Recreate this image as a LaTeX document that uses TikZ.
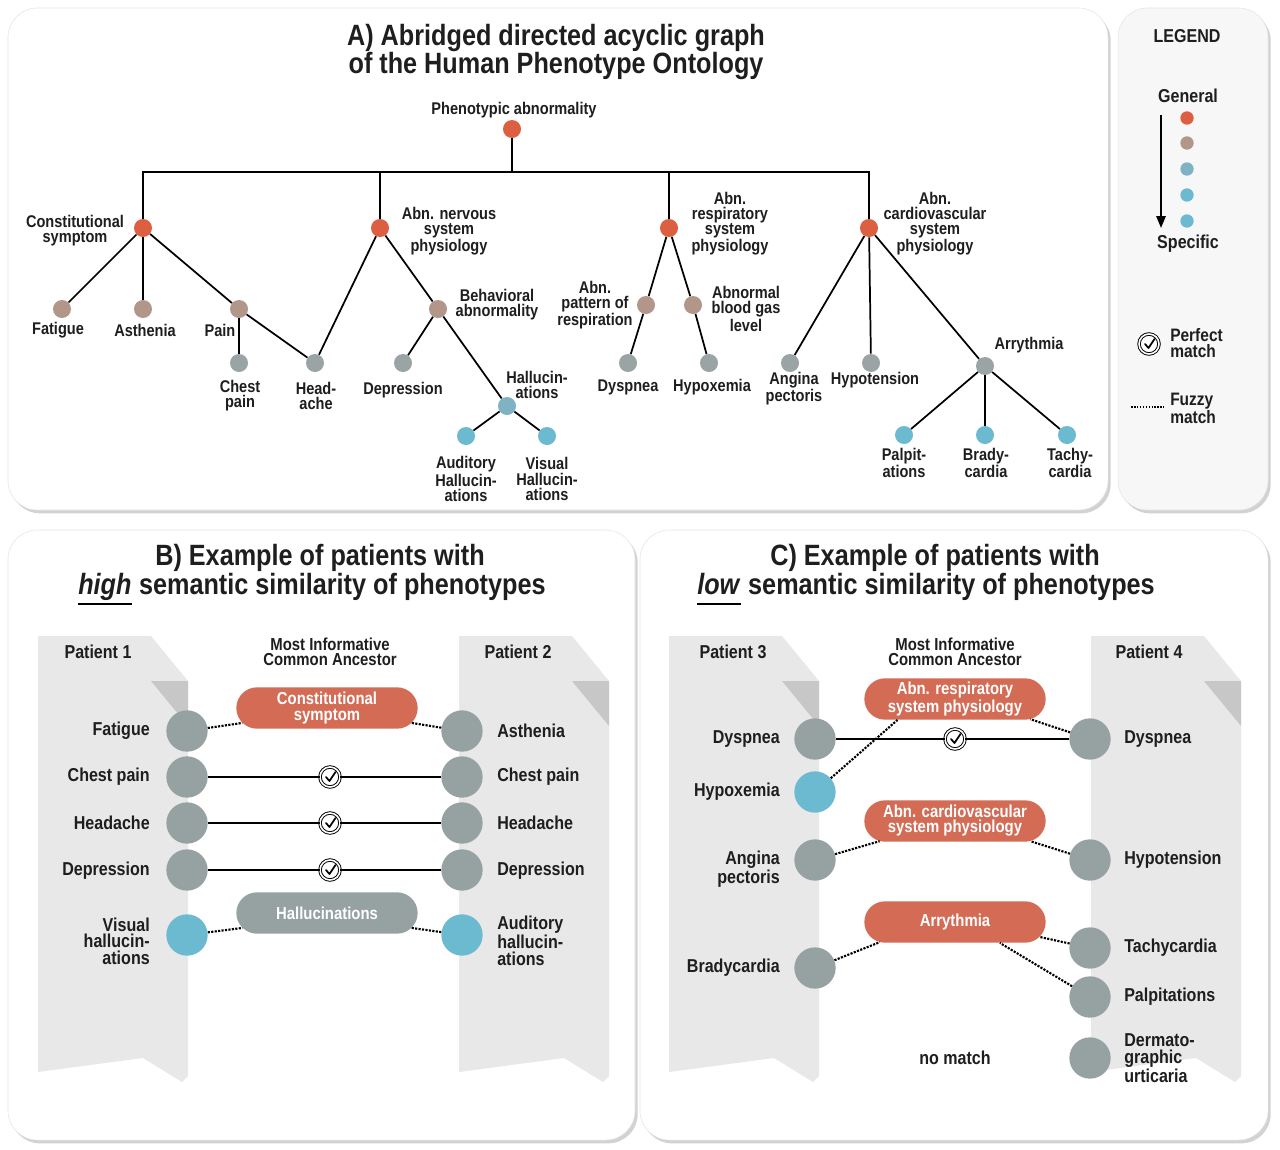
\documentclass[tikz,border=0pt]{standalone}
\usepackage{fontspec}
\setmainfont{Liberation Sans}[FakeStretch=0.86]
\usetikzlibrary{shapes.misc,shadows,arrows.meta}
\definecolor{cOr}{HTML}{DD5F42}
\definecolor{cBr}{HTML}{B3968A}
\definecolor{cGr}{HTML}{9AA4A4}
\definecolor{cGb}{HTML}{7FB3C4}
\definecolor{cBl}{HTML}{6CBAD0}
\definecolor{pOr}{HTML}{D36B55}
\definecolor{pGr}{HTML}{96A2A2}
\definecolor{paper}{HTML}{E8E8E8}
\definecolor{txt}{HTML}{1E1E1E}
\begin{document}
\begin{tikzpicture}[x=0.75pt,y=-0.75pt,
 txt/.style={text=txt,font=\fontsize{12.7}{11.3}\selectfont\bfseries,align=center,inner sep=0pt},
 txtB/.style={text=txt,font=\fontsize{14}{12.5}\selectfont\bfseries,inner sep=0pt},
 ttl/.style={text=txt,font=\fontsize{22}{21}\selectfont\bfseries,align=center,inner sep=0pt},
 dot/.style={circle,inner sep=0pt,minimum size=13.5pt},
 big/.style={circle,inner sep=0pt,minimum size=31pt},
 pill/.style={rounded rectangle,minimum width=136pt,minimum height=31pt,inner sep=0pt,text=white,align=center,font=\fontsize{13}{11.3}\selectfont\bfseries},
 panel/.style={rounded corners=22pt,fill=white,draw=black!10,drop shadow={shadow xshift=2pt,shadow yshift=-2.5pt,fill=black!35}},
 fz/.style={densely dotted,line width=1.6pt},
 ln/.style={line width=1.3pt},
 chk/.style={circle,draw,double,double distance=1.2pt,line width=0.7pt,fill=white,minimum size=15pt,inner sep=0pt,
   path picture={\draw[line width=1.3pt,line cap=round,line join=round] (path picture bounding box.center) ++(-4,0) -- ++(3.5,4) -- ++(6,-9);}},
 pap/.pic={\fill[paper] (0,0) -- (113,0) -- (150,45) -- (150,440) -- (144,446) -- (105,422) -- (0,436) -- cycle;
   \fill[black!22] (113,45) -- (150,45) -- (150,90) -- cycle;}
]
\useasboundingbox (0,0) rectangle (1280,1149);
\fill[white] (0,0) rectangle (1280,1149);
% panels
\path[panel] (8,8) rectangle (1108,510);
\path[panel,fill=black!3] (1118,8) rectangle (1268,510);
\path[panel] (8,530) rectangle (635,1140);
\path[panel] (640,530) rectangle (1268,1140);

% ---------- Panel A ----------
\node[ttl] at (556,52) {A) Abridged directed acyclic graph\\of the Human Phenotype Ontology};
\node[dot,fill=cOr] (root) at (512,129) {};
\node[txt] at (514,110) {Phenotypic abnormality};
\coordinate (bar) at (512,172);
\node[dot,fill=cOr] (cons) at (143,228) {};
\node[dot,fill=cOr] (nerv) at (380,228) {};
\node[dot,fill=cOr] (resp) at (669,228) {};
\node[dot,fill=cOr] (card) at (869,228) {};
\draw[ln] (root) -- (bar);
\draw[ln] (cons) |- (bar) -| (card);
\draw[ln] (nerv) -- (nerv|-bar);
\draw[ln] (resp) -- (resp|-bar);
\node[txt] at (75,231) {Constitutional\\symptom};
\node[txt] at (449,231) {Abn. nervous\\system\\physiology};
\node[txt] at (730,224) {Abn.\\respiratory\\system\\physiology};
\node[txt] at (935,224) {Abn.\\cardiovascular\\system\\physiology};

\node[dot,fill=cBr] (fat) at (62,309) {};
\node[dot,fill=cBr] (ast) at (143,309) {};
\node[dot,fill=cBr] (pain) at (239,309) {};
\node[dot,fill=cGr] (chest) at (239,363) {};
\node[dot,fill=cGr] (head) at (315,363) {};
\node[dot,fill=cBr] (beh) at (438,309) {};
\node[dot,fill=cGr] (dep) at (403,363) {};
\node[dot,fill=cGb] (hal) at (507,406) {};
\node[dot,fill=cBl] (aud) at (466,436) {};
\node[dot,fill=cBl] (vis) at (547,436) {};
\node[dot,fill=cBr] (pat) at (646,305) {};
\node[dot,fill=cBr] (gas) at (693,305) {};
\node[dot,fill=cGr] (dysp) at (628,363) {};
\node[dot,fill=cGr] (hypox) at (709,363) {};
\node[dot,fill=cGr] (ang) at (790,363) {};
\node[dot,fill=cGr] (hypot) at (871,363) {};
\node[dot,fill=cGr] (arr) at (985,366) {};
\node[dot,fill=cBl] (pal) at (904,435) {};
\node[dot,fill=cBl] (bra) at (985,435) {};
\node[dot,fill=cBl] (tac) at (1067,435) {};
\foreach \a/\b in {cons/fat,cons/ast,cons/pain,pain/chest,pain/head,nerv/head,nerv/beh,beh/dep,beh/hal,hal/aud,hal/vis,resp/pat,resp/gas,pat/dysp,gas/hypox,card/ang,card/hypot,card/arr,arr/pal,arr/bra,arr/tac}
  \draw[ln] (\a) -- (\b);
\node[txt] at (58,330) {Fatigue};
\node[txt] at (145,330) {Asthenia};
\node[txt] at (220,330) {Pain};
\node[txt] at (240,396) {Chest\\pain};
\node[txt] at (316,396) {Head-\\ache};
\node[txt] at (497,305) {Behavioral\\abnormality};
\node[txt] at (403,390) {Depression};
\node[txt] at (537,385) {Hallucin-\\ations};
\node[txt] at (466,479) {Auditory\\Hallucin-\\ations};
\node[txt] at (547,479) {Visual\\Hallucin-\\ations};
\node[txt] at (595,305) {Abn.\\pattern of\\respiration};
\node[txt] at (746,309) {Abnormal\\blood gas\\level};
\node[txt] at (628,387) {Dyspnea};
\node[txt] at (712,387) {Hypoxemia};
\node[txt] at (794,389) {Angina\\pectoris};
\node[txt] at (875,380) {Hypotension};
\node[txt] at (1029,345) {Arrythmia};
\node[txt] at (904,463) {Palpit-\\ations};
\node[txt] at (986,463) {Brady-\\cardia};
\node[txt] at (1070,463) {Tachy-\\cardia};

% ---------- Legend ----------
\node[txt,font=\fontsize{14}{13}\selectfont\bfseries] at (1187,36) {LEGEND};
\node[txt,font=\fontsize{14}{13}\selectfont\bfseries] at (1188,96) {General};
\node[txt,font=\fontsize{14}{13}\selectfont\bfseries] at (1188,244) {Specific};
\node[dot,minimum size=10pt,fill=cOr] (l1) at (1187,118) {};
\node[dot,minimum size=10pt,fill=cBr] (l2) at (1187,143) {};
\node[dot,minimum size=10pt,fill=cGb] (l3) at (1187,169) {};
\node[dot,minimum size=10pt,fill=cBl] (l4) at (1187,195) {};
\node[dot,minimum size=10pt,fill=cBl] (l5) at (1187,221) {};
\coordinate (ga) at (1161,115);
\coordinate (gb) at (1161,228);
\draw[line width=1.5pt,-{Triangle[length=9pt,width=7pt]}] (ga) -- (gb);
\node[chk] (lk) at (1149,344) {};
\node[txt,font=\fontsize{13.5}{12.5}\selectfont\bfseries,align=left,anchor=west] at (1170,343) {Perfect\\match};
\coordinate (fa) at (1131,407);
\coordinate (fb) at (1164,407);
\draw[fz,line width=1.2pt] (fa) -- (fb);
\node[txt,font=\fontsize{13.5}{12.5}\selectfont\bfseries,align=left,anchor=west] at (1170,408) {Fuzzy\\match};

% ---------- Panel B ----------
\node[ttl,anchor=base] at (320,565) {B) Example of patients with};
\node[ttl,anchor=base west] (hw) at (78,594) {\textit{high}};
\node[ttl,anchor=base west] at (hw.base east) {\ semantic similarity of phenotypes};
\draw[line width=1.5pt] (hw.south west|-0,604) -- (hw.south east|-0,604);
\pic at (38,636) {pap};
\pic at (459,636) {pap};
\node[txtB] at (98,652) {Patient 1};
\node[txtB] at (518,652) {Patient 2};
\node[txt,font=\fontsize{13}{11.3}\selectfont\bfseries] at (330,652) {Most Informative\\Common Ancestor};
\node[pill,fill=pOr] (pc) at (327,708) {Constitutional\\symptom};
\node[pill,fill=pGr] (ph) at (327,913) {Hallucinations};
\foreach \n/\y/\c in {1/731/pGr,2/777/pGr,3/823/pGr,4/870/pGr,5/935/cBl}{
  \node[big,fill=\c] (bl\n) at (187,\y) {};
  \node[big,fill=\c] (br\n) at (462,\y) {};}
\node[chk] (k2) at (330,777) {};
\node[chk] (k3) at (330,823) {};
\node[chk] (k4) at (330,870) {};
\draw[ln] (bl2) -- (k2) -- (br2);
\draw[ln] (bl3) -- (k3) -- (br3);
\draw[ln] (bl4) -- (k4) -- (br4);
\draw[fz] (bl1) -- (pc.190); \draw[fz] (br1) -- (pc.350);
\draw[fz] (bl5) -- (ph.190); \draw[fz] (br5) -- (ph.350);
\node[txtB,anchor=east] at (150,731) {Fatigue};
\node[txtB,anchor=east] at (150,777) {Chest pain};
\node[txtB,anchor=east] at (150,823) {Headache};
\node[txtB,anchor=east] at (150,871) {Depression};
\node[txtB,anchor=east,align=right] at (150,941) {Visual\\hallucin-\\ations};
\node[txtB,anchor=west] at (497,731) {Asthenia};
\node[txtB,anchor=west] at (497,777) {Chest pain};
\node[txtB,anchor=west] at (497,823) {Headache};
\node[txtB,anchor=west] at (497,871) {Depression};
\node[txtB,anchor=west,align=left] at (497,941) {Auditory\\hallucin-\\ations};

% ---------- Panel C ----------
\node[ttl,anchor=base] at (935,565) {C) Example of patients with};
\node[ttl,anchor=base west] (lw) at (697,594) {\textit{low}};
\node[ttl,anchor=base west] at (lw.base east) {\ semantic similarity of phenotypes};
\draw[line width=1.5pt] (lw.south west|-0,604) -- (lw.south east|-0,604);
\pic at (669,636) {pap};
\pic at (1091,636) {pap};
\node[txtB] at (733,652) {Patient 3};
\node[txtB] at (1149,652) {Patient 4};
\node[txt,font=\fontsize{13}{11.3}\selectfont\bfseries] at (955,652) {Most Informative\\Common Ancestor};
\node[pill,fill=pOr] (pr) at (955,699) {Abn. respiratory\\system physiology};
\node[pill,fill=pOr] (pv) at (955,821) {Abn. cardiovascular\\system physiology};
\node[pill,fill=pOr] (pa) at (955,922) {Arrythmia};
\node[big,fill=pGr] (c1) at (815,739) {};
\node[big,fill=cBl] (c2) at (815,792) {};
\node[big,fill=pGr] (c3) at (815,860) {};
\node[big,fill=pGr] (c4) at (815,968) {};
\node[big,fill=pGr] (d1) at (1090,739) {};
\node[big,fill=pGr] (d2) at (1090,860) {};
\node[big,fill=pGr] (d3) at (1090,948) {};
\node[big,fill=pGr] (d4) at (1090,997) {};
\node[big,fill=pGr] (d5) at (1090,1058) {};
\node[chk] (k5) at (955,739) {};
\draw[ln] (c1) -- (k5) -- (d1);
\draw[fz] (c2) -- (pr.200); \draw[fz] (d1) -- (pr.345);
\draw[fz] (c3) -- (pv.195); \draw[fz] (d2) -- (pv.345);
\draw[fz] (c4) -- (pa.195); \draw[fz] (d3) -- (pa.350); \draw[fz] (d4) -- (pa.335);
\node[txtB,anchor=east] at (780,739) {Dyspnea};
\node[txtB,anchor=east] at (780,792) {Hypoxemia};
\node[txtB,anchor=east,align=right] at (780,869) {Angina\\pectoris};
\node[txtB,anchor=east] at (780,968) {Bradycardia};
\node[txtB,anchor=west] at (1124,739) {Dyspnea};
\node[txtB,anchor=west] at (1124,860) {Hypotension};
\node[txtB,anchor=west] at (1124,948) {Tachycardia};
\node[txtB,anchor=west] at (1124,997) {Palpitations};
\node[txtB,anchor=west,align=left] at (1124,1058) {Dermato-\\graphic\\urticaria};
\node[txtB] at (955,1058) {no match};
\end{tikzpicture}
\end{document}
